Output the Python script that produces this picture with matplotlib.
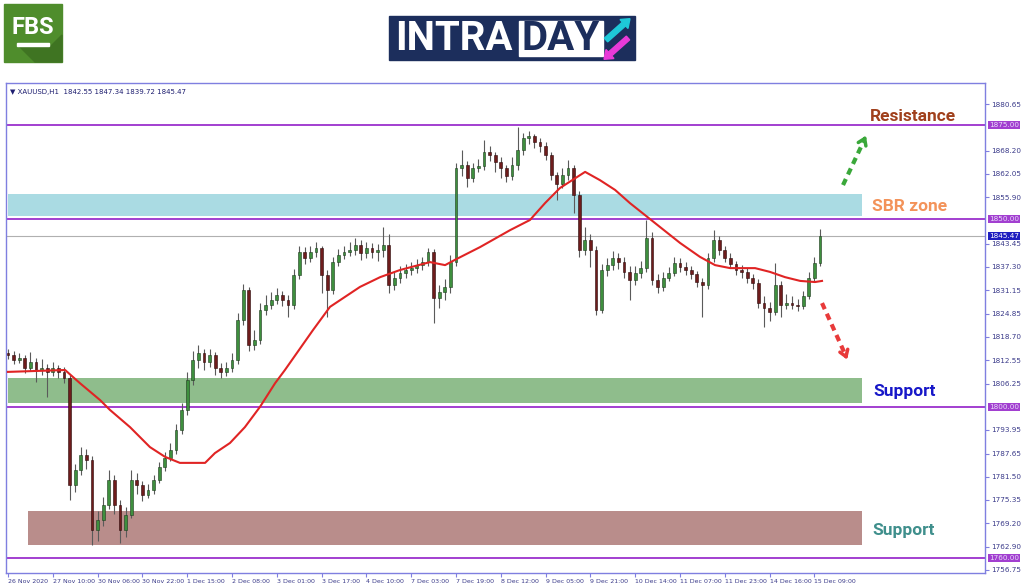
import matplotlib.pyplot as plt
import matplotlib.patches as mpatches
import numpy as np

# XAUUSD H1 (one candle per two hourly bars)
closes = [
    1813.9, 1812.6, 1813.1, 1810.4, 1812.0, 1809.9, 1810.4, 1809.4, 1810.4, 1809.4,
    1807.8, 1779.3, 1783.3, 1787.3, 1786.0, 1767.4, 1770.0, 1774.0, 1780.7, 1774.0,
    1767.4, 1771.3, 1780.7, 1779.3, 1776.7, 1778.0, 1780.7, 1784.1, 1786.5, 1788.6,
    1793.9, 1799.3, 1807.3, 1812.6, 1814.4, 1812.0, 1813.9, 1810.4, 1809.4, 1810.4,
    1812.6, 1823.2, 1831.2, 1816.6, 1817.9, 1825.9, 1827.2, 1828.5, 1829.9, 1828.5,
    1827.2, 1835.2, 1841.3, 1839.7, 1841.3, 1842.4, 1835.2, 1831.2, 1838.6, 1840.5,
    1841.3, 1841.8, 1843.2, 1841.0, 1842.4, 1841.3, 1841.8, 1843.2, 1832.5, 1834.4,
    1835.7, 1836.5, 1837.0, 1837.8, 1838.6, 1841.3, 1829.1, 1830.7, 1832.0, 1838.6,
    1863.6, 1864.4, 1861.0, 1863.6, 1864.2, 1867.9, 1867.1, 1865.2, 1863.6, 1861.5,
    1864.4, 1868.4, 1871.6, 1872.1, 1870.5, 1869.5, 1867.1, 1861.8, 1859.4, 1861.8,
    1863.6, 1856.5, 1841.8, 1844.5, 1841.8, 1825.9, 1836.5, 1837.8, 1839.7, 1838.6,
    1836.0, 1833.8, 1835.7, 1837.0, 1845.0, 1833.8, 1832.0, 1834.4, 1835.7, 1838.4,
    1837.3, 1836.5, 1835.4, 1833.3, 1832.5, 1839.7, 1844.5, 1841.8, 1839.7, 1838.1,
    1836.5, 1836.0, 1834.4, 1833.0, 1827.7, 1826.4, 1825.3, 1832.5, 1827.2, 1827.7,
    1827.2, 1826.9, 1829.6, 1834.4, 1838.4, 1845.47,
]
opens = [
    1814.5, 1813.9, 1812.6, 1813.1, 1810.4, 1812.0, 1809.9, 1810.4, 1809.4, 1810.4,
    1809.4, 1807.8, 1779.3, 1783.3, 1787.3, 1786.0, 1767.4, 1770.0, 1774.0, 1780.7,
    1774.0, 1767.4, 1771.3, 1780.7, 1779.3, 1776.7, 1778.0, 1780.7, 1784.1, 1786.5,
    1788.6, 1793.9, 1799.3, 1807.3, 1812.6, 1814.4, 1812.0, 1813.9, 1810.4, 1809.4,
    1810.4, 1812.6, 1823.2, 1831.2, 1816.6, 1817.9, 1825.9, 1827.2, 1828.5, 1829.9,
    1828.5, 1827.2, 1835.2, 1841.3, 1839.7, 1841.3, 1842.4, 1835.2, 1831.2, 1838.6,
    1840.5, 1841.3, 1841.8, 1843.2, 1841.0, 1842.4, 1841.3, 1841.8, 1843.2, 1832.5,
    1834.4, 1835.7, 1836.5, 1837.0, 1837.8, 1838.6, 1841.3, 1829.1, 1830.7, 1832.0,
    1838.6, 1863.6, 1864.4, 1861.0, 1863.6, 1864.2, 1867.9, 1867.1, 1865.2, 1863.6,
    1861.5, 1864.4, 1868.4, 1871.6, 1872.1, 1870.5, 1869.5, 1867.1, 1861.8, 1859.4,
    1861.8, 1863.6, 1856.5, 1841.8, 1844.5, 1841.8, 1825.9, 1836.5, 1837.8, 1839.7,
    1838.6, 1836.0, 1833.8, 1835.7, 1837.0, 1845.0, 1833.8, 1832.0, 1834.4, 1835.7,
    1838.4, 1837.3, 1836.5, 1835.4, 1833.3, 1832.5, 1839.7, 1844.5, 1841.8, 1839.7,
    1838.1, 1836.5, 1836.0, 1834.4, 1833.0, 1827.7, 1826.4, 1825.3, 1832.5, 1827.2,
    1827.7, 1827.2, 1826.9, 1829.6, 1834.4, 1838.4,
]
highs = [
    1815.6, 1815.0, 1814.4, 1814.0, 1814.8, 1813.0, 1812.8, 1811.6, 1812.0, 1811.3,
    1810.6, 1808.6, 1785.0, 1789.4, 1788.8, 1787.0, 1772.5, 1776.0, 1783.3, 1782.0,
    1775.2, 1773.5, 1783.3, 1782.5, 1780.5, 1779.6, 1782.0, 1785.5, 1788.0, 1790.5,
    1795.6, 1801.2, 1809.5, 1815.0, 1816.5, 1815.5, 1815.6, 1814.8, 1811.8, 1812.0,
    1814.5, 1825.0, 1832.8, 1832.0, 1820.5, 1827.6, 1829.8, 1830.6, 1831.8, 1831.0,
    1829.8, 1836.8, 1843.0, 1842.6, 1842.8, 1844.0, 1843.0, 1836.5, 1840.0, 1842.0,
    1843.0, 1844.0, 1845.0, 1844.5, 1844.0, 1843.8, 1843.5, 1847.9, 1846.0, 1836.0,
    1837.5, 1838.0, 1838.6, 1839.5, 1840.0, 1842.4, 1842.0, 1832.5, 1834.0, 1840.5,
    1865.0, 1868.4, 1865.5, 1865.0, 1866.0, 1871.1, 1869.5, 1868.0, 1866.5, 1864.5,
    1866.5, 1874.5, 1873.0, 1873.5, 1872.8, 1871.5, 1870.5, 1868.0, 1862.5, 1863.5,
    1865.8, 1864.5, 1857.5, 1847.9, 1846.0, 1842.8, 1838.0, 1839.8, 1841.5, 1841.0,
    1840.0, 1837.5, 1837.5, 1838.8, 1849.8, 1846.5, 1835.5, 1836.0, 1837.3, 1840.0,
    1839.6, 1838.5, 1837.5, 1836.2, 1834.5, 1841.0, 1847.1, 1845.5, 1842.8, 1841.0,
    1839.0, 1837.8, 1837.0, 1835.5, 1834.0, 1829.5, 1828.0, 1838.4, 1833.5, 1830.0,
    1829.5, 1828.8, 1831.0, 1836.0, 1840.0, 1847.34,
]
lows = [
    1812.8, 1811.5, 1811.8, 1809.2, 1809.6, 1806.7, 1808.6, 1802.7, 1808.4, 1807.9,
    1806.5, 1775.3, 1777.5, 1782.0, 1783.5, 1763.4, 1764.5, 1768.5, 1772.8, 1771.5,
    1764.0, 1765.5, 1770.5, 1777.0, 1775.0, 1775.8, 1777.0, 1779.8, 1783.0, 1785.6,
    1787.5, 1792.8, 1798.0, 1806.0, 1810.5, 1810.0, 1810.8, 1808.5, 1807.8, 1808.2,
    1809.5, 1811.5, 1822.0, 1815.0, 1815.2, 1816.8, 1824.5, 1826.0, 1827.5, 1826.8,
    1824.0, 1826.0, 1834.0, 1838.0, 1838.5, 1840.0, 1830.4, 1824.0, 1830.0, 1837.5,
    1839.5, 1840.2, 1840.5, 1839.2, 1839.8, 1839.6, 1839.0, 1840.0, 1830.4, 1831.2,
    1833.0, 1834.5, 1835.2, 1835.8, 1836.5, 1837.5, 1822.4, 1826.5, 1828.5, 1830.5,
    1837.5, 1861.5, 1858.6, 1860.0, 1862.5, 1863.0, 1865.5, 1862.5, 1861.0, 1860.0,
    1860.5, 1863.0, 1867.0, 1870.0, 1869.0, 1868.0, 1865.8, 1860.5, 1855.1, 1858.2,
    1860.5, 1851.7, 1840.0, 1840.5, 1837.3, 1824.5, 1825.0, 1835.0, 1836.5, 1836.8,
    1834.5, 1828.5, 1832.5, 1834.5, 1836.0, 1832.5, 1830.5, 1831.0, 1833.5, 1834.8,
    1836.0, 1835.2, 1834.0, 1832.0, 1824.0, 1831.5, 1838.5, 1840.5, 1838.5, 1837.0,
    1835.2, 1834.5, 1833.0, 1831.5, 1826.5, 1821.3, 1823.0, 1824.5, 1824.0, 1826.0,
    1826.0, 1825.5, 1826.0, 1828.8, 1833.5, 1837.5,
]

# 50-period moving average, read at points (hourly bar index, price)
ma_bar = [0, 20.4, 25.7, 32.9, 36.4, 43.6, 50.7, 56.1, 61.4, 70.4, 73.9, 79.3, 84.6, 90,
          95.4, 98.9, 108.9, 115, 125.7, 132.9, 140, 150.7, 156.1, 159.6, 168.6, 179.3,
          186.4, 191.8, 197.1, 206.1, 211.4, 216.8, 222.1, 227.5, 232.9, 240, 247.1,
          252.5, 257.9, 266.8, 272.1, 277.5, 282.9, 288.2, 290.7]
ma_val = [1809.4, 1809.9, 1806.4, 1801.9, 1799.3, 1794.7, 1789.4, 1786.8, 1785.2, 1785.2,
          1787.8, 1790.5, 1794.7, 1800.1, 1806.4, 1809.9, 1820.5, 1826.7, 1832.0, 1834.6,
          1836.5, 1838.6, 1837.8, 1839.2, 1842.6, 1847.1, 1849.8, 1854.3, 1858.3, 1862.6,
          1860.4, 1857.8, 1854.3, 1851.1, 1847.9, 1843.7, 1840.0, 1837.8, 1837.0, 1837.0,
          1836.0, 1834.6, 1833.6, 1833.3, 1833.6]

time_labels = ["26 Nov 2020", "27 Nov 10:00", "30 Nov 06:00", "30 Nov 22:00",
               "1 Dec 15:00", "2 Dec 08:00", "3 Dec 01:00", "3 Dec 17:00",
               "4 Dec 10:00", "7 Dec 03:00", "7 Dec 19:00", "8 Dec 12:00",
               "9 Dec 05:00", "9 Dec 21:00", "10 Dec 14:00", "11 Dec 07:00",
               "11 Dec 23:00", "14 Dec 16:00", "15 Dec 09:00"]
price_ticks = [1880.65, 1868.20, 1862.05, 1855.90, 1843.45, 1837.30, 1831.15, 1824.85,
               1818.70, 1812.55, 1806.25, 1793.95, 1787.65, 1781.50, 1775.35, 1769.20,
               1762.90, 1756.75]
levels = [1875.00, 1850.00, 1800.00, 1760.00]
last_price = 1845.47
sbr_zone = (1850.9, 1856.7)
support_zone = (1801.1, 1807.8)
low_zone = (1763.3, 1772.4)

opens = np.array(opens)
closes = np.array(closes)
highs = np.array(highs)
lows = np.array(lows)
x = np.arange(len(closes)) * 2  # hourly bar index

fig = plt.figure(figsize=(10.24, 5.87), dpi=100)
ax = fig.add_axes([6 / 1024, 1 - 573 / 587, 979 / 1024, 490 / 587])
ax.set_xlim(-0.7, 348.9)
ax.set_ylim(1755.91, 1886.24)

# zones
zone_x = (0, 305)
ax.fill_between(zone_x, *sbr_zone, color="#aadbe3", lw=0, zorder=1)
ax.fill_between(zone_x, *support_zone, color="#8fbd8c", lw=0, zorder=1)
ax.fill_between((7.1, 305), *low_zone, color="#b98d8b", lw=0, zorder=1)

# levels
for lv in levels:
    ax.axhline(lv, color="#a23fd0", lw=1.4, zorder=2)
ax.axhline(last_price, color="#b0b0b0", lw=0.8, zorder=2)

# candles
up = closes >= opens
ax.vlines(x, lows, highs, color="#5a5a5a", lw=0.8, zorder=3)
body_lo = np.minimum(opens, closes)
body_h = np.maximum(np.abs(closes - opens), 0.3)
ax.bar(x[up], body_h[up], bottom=body_lo[up], width=1.0, color="#3e8f3e",
       edgecolor="#1e3a1e", lw=0.4, zorder=4)
ax.bar(x[~up], body_h[~up], bottom=body_lo[~up], width=1.0, color="#6e1c1c",
       edgecolor="#2a0a0a", lw=0.4, zorder=4)

ax.plot(ma_bar, ma_val, color="#e02424", lw=1.5, zorder=5)

# axes styling
for side in ["top", "bottom", "left", "right"]:
    ax.spines[side].set_color("#7f7fe0")
    ax.spines[side].set_linewidth(1.0)
ax.yaxis.tick_right()
ax.set_yticks(price_ticks)
ax.set_yticklabels([f"{p:.2f}" for p in price_ticks])
ax.set_xticks(np.arange(len(time_labels)) * 16)
ax.set_xticklabels(time_labels, ha="left")
ax.tick_params(axis="both", labelsize=5.2, colors="#7f7fe0", labelcolor="#3b3b8a",
               length=3, width=0.8, pad=1.5)
ax.tick_params(axis="x", labelsize=4.5)

lbl_tr = ax.get_yaxis_transform()
for lv in levels:
    ax.text(1.004, lv, f"{lv:.2f}", transform=lbl_tr, fontsize=5.2, color="#e8d8f8",
            va="center", ha="left",
            bbox=dict(boxstyle="square,pad=0.15", fc="#a23fd0", ec="none"))
ax.text(1.004, last_price, f"{last_price:.2f}", transform=lbl_tr, fontsize=5.2,
        color="white", va="center", ha="left",
        bbox=dict(boxstyle="square,pad=0.15", fc="#1f1fc0", ec="none"))

ax.text(0.004, 0.988, "\u25bc XAUUSD,H1  1842.55 1847.34 1839.72 1845.47",
        transform=ax.transAxes, fontsize=5, color="#1e1e70", va="top", ha="left")

# annotations
txt = dict(fontsize=12.5, fontweight="bold", family="Roboto", va="center", ha="left")
ax.text(307.9, 1877.2, "Resistance", color="#a0401c", **txt)
ax.text(308.6, 1853.5, "SBR zone", color="#f3935a", **txt)
ax.text(308.9, 1804.3, "Support", color="#1717c8", **txt)
ax.text(308.6, 1767.1, "Support", color="#3f8f8c", **txt)

ax.plot([298.2, 305.6], [1859.1, 1870.8], color="#3aa83a", lw=3, ls=(0, (1.6, 1.2)))
ax.annotate("", xy=(306.8, 1872.9), xytext=(305.4, 1870.6),
            arrowprops=dict(arrowstyle="->,head_length=0.45,head_width=0.3",
                            color="#3aa83a", lw=2.5))
ax.plot([290.7, 299.0], [1827.7, 1814.0], color="#e83a3a", lw=3, ls=(0, (1.6, 1.2)))
ax.annotate("", xy=(300.0, 1812.0), xytext=(298.8, 1814.4),
            arrowprops=dict(arrowstyle="->,head_length=0.45,head_width=0.3",
                            color="#e83a3a", lw=2.5))

# logos (pixel coordinates)
lg = fig.add_axes([0, 0, 1, 1], zorder=10)
lg.set_xlim(0, 1024)
lg.set_ylim(587, 0)
lg.axis("off")
lg.add_patch(mpatches.Rectangle((4, 4), 58, 58, color="#4f8d2c"))
lg.add_patch(mpatches.Polygon([(20, 47), (50, 47), (62, 35), (62, 62), (35, 62)],
                              color="#3f7422"))
lg.text(33, 27, "FBS", color="white", fontsize=17, fontweight="bold",
        family="Roboto", ha="center", va="center")
lg.add_patch(mpatches.Rectangle((17, 43), 32, 3, color="white"))

lg.add_patch(mpatches.Rectangle((389, 16), 246, 44, color="#1c2e5c"))
lg.add_patch(mpatches.Rectangle((519, 21), 84, 35, color="white"))
lg.text(395, 39, "INTRA", color="white", fontsize=29, fontweight="bold",
        family="Roboto", ha="left", va="center")
lg.text(522, 39, "DAY", color="#1c2e5c", fontsize=29, fontweight="bold",
        family="Roboto", ha="left", va="center")
lg.add_patch(mpatches.FancyArrow(606, 40, 18, -16, width=5, head_width=12,
                                 head_length=8, color="#1ec8d8"))
lg.add_patch(mpatches.FancyArrow(628, 38, -18, 16, width=5, head_width=12,
                                 head_length=8, color="#e83ad8"))

fig.savefig("out.png", dpi=100)
